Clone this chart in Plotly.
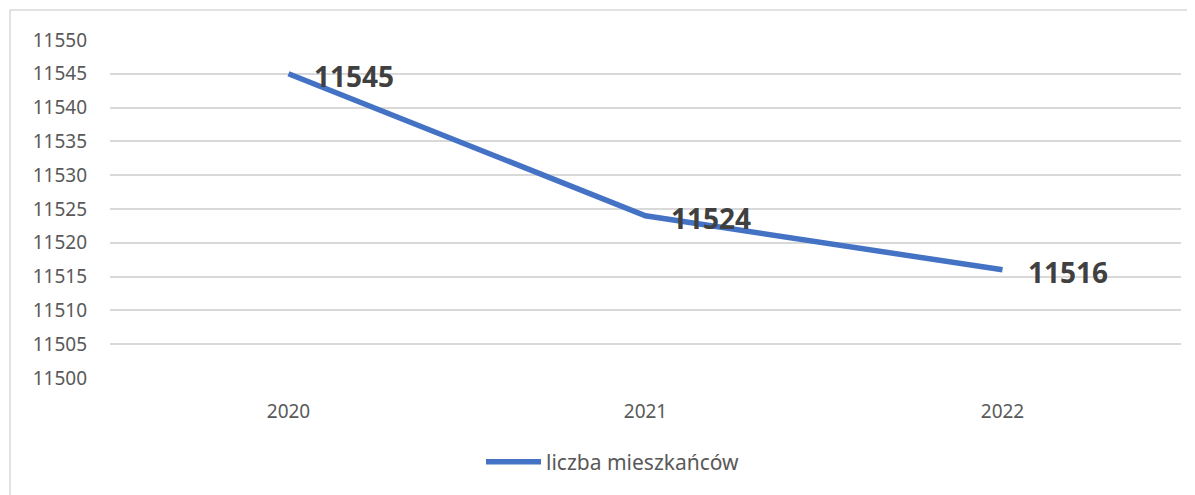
import plotly.graph_objects as go

years = ["2020", "2021", "2022"]
residents = [11545, 11524, 11516]
series_name = "liczba mieszkańców"
y_ticks = list(range(11500, 11551, 5))

# page has an 8px body margin; figure sized to fill the rest
W, H = 1187, 487
L, R, T, B = 102, 14, 32, 117
pw, ph = W - L - R, H - T - B

fig = go.Figure()
fig.add_trace(go.Scatter(
    x=years, y=residents, mode="lines", name=series_name,
    line=dict(color="#4472C4", width=5.5),
))
for i, y in enumerate(residents):
    fig.add_annotation(
        x=i, y=y, text=f"<b>{y}</b>", showarrow=False,
        xanchor="left", yanchor="middle", xshift=23, yshift=-2,
        font=dict(family="Noto Sans", size=28, color="#404040"),
    )

# outer chart border (top and left visible)
fig.add_shape(
    type="rect", xref="paper", yref="paper",
    x0=(2 - L) / pw, x1=(1200 - L) / pw,
    y0=(H - B - 500) / ph, y1=(H - B - 2) / ph,
    line=dict(color="#D9D9D9", width=1.5), layer="below",
)

fig.update_layout(
    width=W, height=H,
    margin=dict(l=L, r=R, t=T, b=B, autoexpand=False),
    paper_bgcolor="white", plot_bgcolor="white",
    font=dict(family="Noto Sans", size=19, color="#595959"),
    showlegend=True,
    legend=dict(orientation="h", x=(473 - L) / pw, xanchor="left",
                y=(H - B - 454) / ph, yanchor="middle",
                font=dict(size=21, color="#595959"), itemwidth=55),
    xaxis=dict(type="category", range=[-0.5, 2.5], showgrid=False,
               showline=False, zeroline=False, ticks="", automargin=False,
               ticklabelstandoff=20,
               tickfont=dict(size=19, color="#595959")),
    yaxis=dict(range=[11500, 11550], tickvals=y_ticks, tickformat="d",
               showgrid=True, gridcolor="#D9D9D9", gridwidth=1.5,
               zeroline=False, automargin=False,
               showline=False, ticks="", ticklabelstandoff=22,
               tickfont=dict(size=19, color="#595959")),
)

fig.write_html("out.html")
